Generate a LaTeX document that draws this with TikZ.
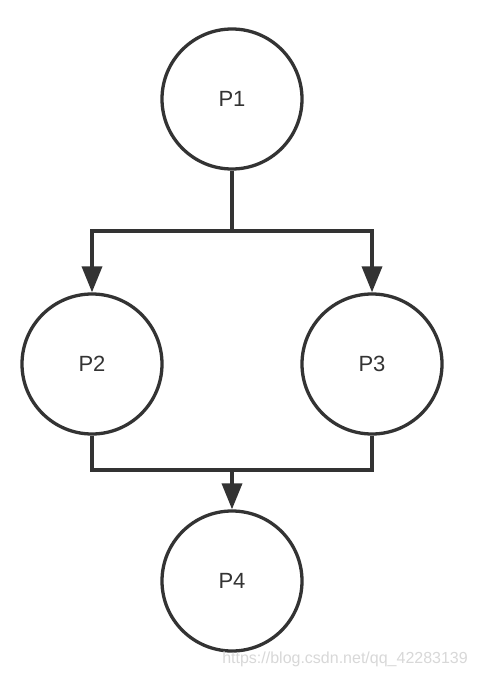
\documentclass[tikz,border=0pt]{standalone}
\usepackage{fontspec}
\setmainfont{Liberation Sans}
\usetikzlibrary{arrows.meta}
\definecolor{color_proc_line}{HTML}{333333}
\definecolor{color_watermark}{HTML}{D8D8D8}
\begin{document}
\begin{tikzpicture}[x=1pt, y=-1pt,
    proc/.style={circle, draw=color_proc_line, line width=3.3pt, minimum size=140pt, inner sep=0pt, font=\fontsize{22}{26}\selectfont, text=color_proc_line},
    flow/.style={draw=color_proc_line, line width=3.6pt},
    flowarrow/.style={flow, -{Triangle[length=26pt, width=20pt]}}]
    \useasboundingbox (0,0) rectangle (478,676);
    \fill[white] (0,0) rectangle (478,676);
    % processes
    \node[proc] (p1) at (232,99) {P1};
    \node[proc] (p2) at (92,364) {P2};
    \node[proc] (p3) at (372,364) {P3};
    \node[proc] (p4) at (232,581) {P4};
    % fork
    \coordinate (fork) at (232,231);
    \draw[flow] (p1.south) -- (fork);
    \draw[flowarrow] (fork) -| (p2.north);
    \draw[flowarrow] (fork) -| (p3.north);
    % join
    \coordinate (join) at (232,470);
    \draw[flow] (p2.south) |- (join);
    \draw[flow] (p3.south) |- (join);
    \draw[flowarrow] (join) -- (p4.north);
    % watermark
    \node[anchor=base east, inner sep=0pt, text=color_watermark, font=\fontsize{16}{18}\selectfont] (mark) at (468,663) {https://blog.csdn.net/qq\_42283139};
\end{tikzpicture}
\end{document}
